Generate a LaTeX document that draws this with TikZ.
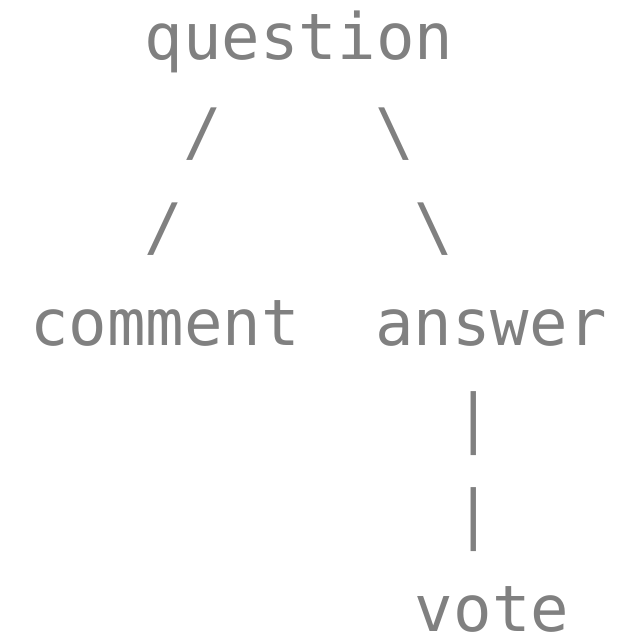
\documentclass[tikz,border=0pt]{standalone}
\usepackage{fontspec}
\usepackage{tikz}
\newfontfamily\monofont{DejaVu Sans Mono}
\definecolor{textgray}{RGB}{128,128,128}

\begin{document}
\begin{tikzpicture}[x=1pt, y=1pt, word/.style={text=textgray, font=\monofont\fontsize{64}{64}\selectfont, anchor=base, inner sep=0pt}]
            \useasboundingbox (0, 0) rectangle (626, 642);
            \node[word] (question) at (299, 582) {question};
            \node[word] (comment) at (165, 296) {comment};
            \node[word] (answer) at (491, 296) {answer};
            \node[word] (vote) at (492, 10) {vote};
            \foreach \name/\x/\y/\ch in {qc1/203/487/{/}, qa1/395/487/\textbackslash, qc2/164/392/{/}, qa2/434/392/\textbackslash, av1/474/201/|, av2/474/105/|}
            {
                \node[word] (\name) at (\x, \y) {\ch};
            }
        \end{tikzpicture}
\end{document}
